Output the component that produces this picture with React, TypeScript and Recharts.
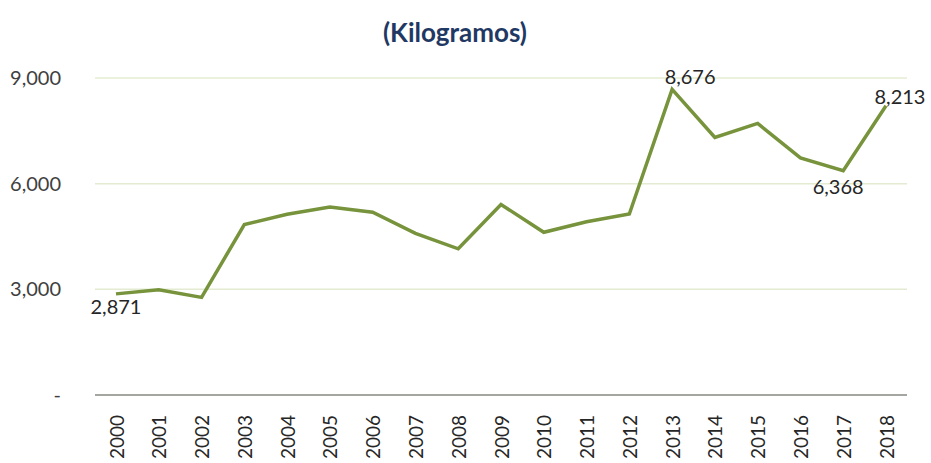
import { LineChart, Line, XAxis, YAxis, CartesianGrid, LabelList } from 'recharts'

const years = [
  '2000', '2001', '2002', '2003', '2004', '2005', '2006', '2007', '2008', '2009',
  '2010', '2011', '2012', '2013', '2014', '2015', '2016', '2017', '2018',
]
const kilos = [
  2871, 2990, 2770, 4840, 5130, 5340, 5190, 4590, 4150, 5410,
  4620, 4920, 5140, 8676, 7310, 7710, 6730, 6368, 8213,
]
const yTicks = [0, 3000, 6000, 9000]

// where the few value labels sit relative to their point
const labelNudge: Record<number, [number, number]> = {
  0: [0, 12],
  13: [18, -13],
  17: [-5, 15],
  18: [14, -10],
}

const FONT = 'Lato, "Open Sans", sans-serif'

const data = years.map((year, i) => ({ year, kg: kilos[i] }))

const fmt = (v: number) => (v === 0 ? '-' : v.toLocaleString('en-US'))

const YearTick = ({ x, y, payload }: any) => (
  <text
    transform={`translate(${x},${y + 12}) rotate(-90)`}
    textAnchor="end"
    dominantBaseline="central"
    fontSize={19}
    fontFamily={FONT}
    fill="#262626"
  >
    {payload.value}
  </text>
)

const PointLabel = (props: any) => {
  const { x, y, index, value } = props
  const nudge = labelNudge[index]
  if (!nudge) return null
  return (
    <text
      x={x + nudge[0]}
      y={y + nudge[1]}
      textAnchor="middle"
      dominantBaseline="central"
      fontSize={20}
      fontFamily={FONT}
      fill="#262626"
    >
      {fmt(value)}
    </text>
  )
}

export default function App() {
  return (
    <div style={{ position: 'absolute', top: 0, left: 0, width: 931, height: 463, background: '#fff' }}>
      <div
        style={{
          position: 'absolute', top: 16, left: 0, width: 910, textAlign: 'center',
          fontFamily: FONT, fontWeight: 700, fontSize: 26, color: '#1F3864',
        }}
      >
        (Kilogramos)
      </div>
      <LineChart width={931} height={463} data={data} margin={{ top: 78, right: 24, bottom: 0, left: 0 }}>
        <CartesianGrid vertical={false} stroke="#E3ECD2" strokeWidth={1.5} />
        <XAxis
          dataKey="year"
          tick={<YearTick />}
          tickLine={false}
          axisLine={{ stroke: '#8C8C8C', strokeWidth: 1.5 }}
          interval={0}
          height={68}
          padding={{ left: 21, right: 21 }}
        />
        <YAxis
          domain={[0, 9000]}
          ticks={yTicks}
          tickFormatter={fmt}
          width={95}
          axisLine={false}
          tickLine={false}
          tickMargin={28}
          tick={{ fontSize: 20, fontFamily: FONT, fill: '#404040' }}
        />
        <Line
          type="linear"
          dataKey="kg"
          stroke="#77933C"
          strokeWidth={3.5}
          dot={false}
          isAnimationActive={false}
        >
          <LabelList dataKey="kg" content={<PointLabel />} />
        </Line>
      </LineChart>
    </div>
  )
}
